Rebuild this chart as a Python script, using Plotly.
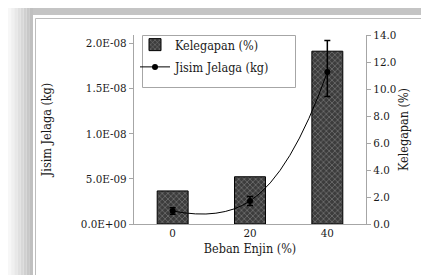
import plotly.graph_objects as go

categories = ["0", "20", "40"]
kelegapan = [2.45, 3.5, 12.8]
jisim = [1.44e-9, 2.54e-9, 1.68e-8]
jisim_err_plus = [0.35e-9, 0.5e-9, 3.5e-9]
jisim_err_minus = [0.35e-9, 0.5e-9, 2.7e-9]
left_tickvals = [0, 5e-9, 1e-8, 1.5e-8, 2e-8]
left_ticktext = ["0.0E+00", "5.0E-09", "1.0E-08", "1.5E-08", "2.0E-08"]
right_tickvals = [0, 2, 4, 6, 8, 10, 12, 14]
right_ticktext = ["0.0", "2.0", "4.0", "6.0", "8.0", "10.0", "12.0", "14.0"]

W, H = 429, 275
L, R, T, B = 126, 71, 27, 59
pw, ph = W - L - R, H - T - B

def px(x):
    return (x - L) / pw

def py(y):
    return (H - B - y) / ph

FONT = "DejaVu Serif Condensed"
FONT2 = "DejaVu Serif Condensed"
TXT = "#1a1a1a"

fig = go.Figure()
fig.add_trace(go.Bar(
    x=categories, y=kelegapan, name="Kelegapan (%)", yaxis="y", legendgroup="a",
    marker=dict(color="#3c3c3c", line=dict(color="black", width=1),
                pattern=dict(shape="x", fgcolor="#d8d8d8", bgcolor="#3c3c3c", size=4, solidity=0.25)),
))
fig.add_trace(go.Scatter(
    x=categories, y=jisim, name="Jisim Jelaga (kg)", yaxis="y2", legendgroup="b",
    mode="lines+markers", line=dict(color="black", width=1, shape="spline", smoothing=1.3),
    marker=dict(color="black", size=6),
    error_y=dict(type="data", array=jisim_err_plus, arrayminus=jisim_err_minus,
                 color="black", thickness=1.5, width=3),
))

shapes = []
grad = ["#f7f7f7", "#f0f0f0", "#e8e8e8", "#e0e0e0", "#d8d8d8", "#d0d0d0", "#c8c8c8", "#c0c0c0"]
n = len(grad)
for i, c in enumerate(grad):
    x0 = i * 25 / n
    x1 = (i + 1) * 25 / n
    shapes.append(dict(type="rect", xref="paper", yref="paper", x0=px(x0), x1=px(x1), y0=py(H), y1=py(0),
                       fillcolor=c, line=dict(width=0), layer="below"))
shapes.append(dict(type="rect", xref="paper", yref="paper", x0=px(25), x1=px(W), y0=py(7), y1=py(0),
                   fillcolor="#c4c4c4", line=dict(width=0), layer="below"))
shapes.append(dict(type="rect", xref="paper", yref="paper", x0=px(27.5), x1=px(W + 2), y0=py(273.5), y1=py(10.5),
                   fillcolor="white", line=dict(color="#bdbdbd", width=1), layer="below"))
shapes.append(dict(type="rect", xref="paper", yref="paper", x0=px(134.5), x1=px(287.5), y0=py(79.5), y1=py(27.5),
                   fillcolor="white", line=dict(color="#a6a6a6", width=1), layer="below"))

fig.update_layout(
    width=W, height=H,
    margin=dict(l=L, r=R, t=T, b=B),
    paper_bgcolor="white", plot_bgcolor="rgba(0,0,0,0)",
    font=dict(family=FONT, size=11, color=TXT),
    bargap=0.6,
    showlegend=True,
    legend=dict(x=px(127), y=py(22), xanchor="left", yanchor="top", bgcolor="rgba(0,0,0,0)",
                font=dict(family=FONT2, size=12.5, color=TXT), tracegroupgap=3, traceorder="grouped",
                itemwidth=30),
    xaxis=dict(type="category", showline=True, linecolor="#a6a6a6", linewidth=1, showgrid=False,
               ticks="", tickfont=dict(family=FONT, size=11.5, color=TXT), ticklabelstandoff=-2,
               title=dict(text="Beban Enjin (%)", font=dict(family=FONT2, size=12.5, color=TXT), standoff=5)),
    yaxis=dict(side="right", range=[0, 14], tickvals=right_tickvals, ticktext=right_ticktext,
               showline=True, linecolor="#a6a6a6", linewidth=1, showgrid=False, zeroline=False,
               ticks="outside", ticklen=4, tickcolor="#a6a6a6",
               tickfont=dict(family=FONT, size=11.5, color=TXT),
               title=dict(text="Kelegapan (%)", font=dict(family=FONT2, size=12.5, color=TXT), standoff=2)),
    yaxis2=dict(side="left", overlaying="y", range=[0, 2.09e-8], tickvals=left_tickvals, ticktext=left_ticktext,
                showline=True, linecolor="#a6a6a6", linewidth=1, showgrid=False, zeroline=False,
                ticks="outside", ticklen=4, tickcolor="#a6a6a6",
                tickfont=dict(family=FONT, size=11.5, color=TXT),
                title=dict(text="Jisim Jelaga (kg)", font=dict(family=FONT2, size=12.5, color=TXT), standoff=26)),
    shapes=shapes,
)
fig.write_html("out.html")
